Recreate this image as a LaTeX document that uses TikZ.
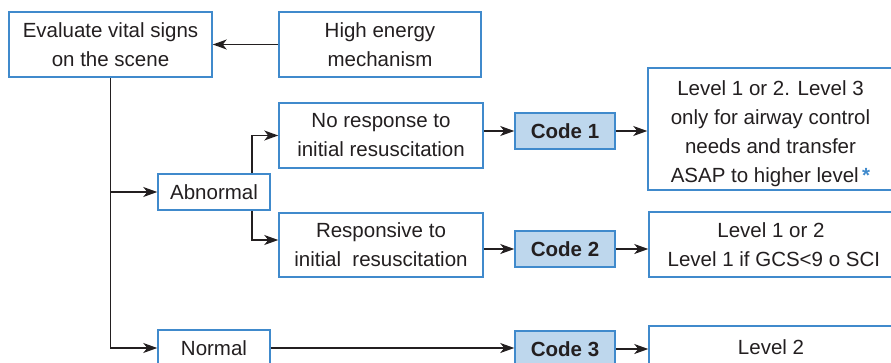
\documentclass[tikz,border=0pt]{standalone}
\usepackage{fontspec}
\setmainfont{Liberation Sans}
\usetikzlibrary{arrows.meta}
\definecolor{boxblue}{RGB}{64,138,204}
\definecolor{codefill}{RGB}{190,215,237}
\definecolor{inkgray}{RGB}{35,31,32}
\tikzset{
  box/.style={draw=boxblue, line width=1.5pt, fill=white, text=inkgray,
    align=center, inner sep=0pt,
    font=\fontsize{20.5}{29}\selectfont},
  codebox/.style={box, fill=codefill,
    font=\fontsize{20.5}{29}\selectfont\bfseries,
    minimum width=100pt, minimum height=36pt},
  link/.style={draw=inkgray, line width=1.3pt},
  arr/.style={link, -{Stealth[length=14pt,width=10pt,inset=4pt]}}
}
\begin{document}
\begin{tikzpicture}[x=1pt, y=-1pt]
\useasboundingbox (0,0) rectangle (891,362);
\clip (0,0) rectangle (891,362);

% left column
\node[box, minimum width=203pt, minimum height=65pt] (eval) at (110.5,44.5)
  {Evaluate vital signs\\on the scene};
\node[box, minimum width=202pt, minimum height=65pt] (high) at (380,44.5)
  {High energy\\mechanism};
\node[box, minimum width=112pt, minimum height=36pt] (abn) at (214,192) {Abnormal};
\node[box, minimum width=112pt, minimum height=36pt] (norm) at (214,348) {Normal};

% abnormal sub-branches
\node[box, minimum width=204pt, minimum height=65pt] (noresp) at (381,135.5)
  {No response to\\initial resuscitation};
\node[box, minimum width=204pt, minimum height=64pt] (resp) at (381,245)
  {Responsive to\\initial~ resuscitation};

% codes
\node[codebox] (code1) at (565,131) {Code 1};
\node[codebox] (code2) at (565,249) {Code 2};
\node[codebox] (code3) at (565,349) {Code 3};

% destination levels
\node[box, minimum width=245pt, minimum height=122pt] (lv1) at (770.5,129)
  {\rule{0pt}{24pt}Level 1 or 2. Level 3\\only for airway control\\needs and transfer\\ASAP to higher level\,\textcolor{boxblue}{\bfseries *}};
\node[box, minimum width=244pt, minimum height=65pt] (lv2) at (771,244.5)
  {Level 1 or 2\\\ Level 1 if GCS<9 o SCI};
\node[box, minimum width=244pt, minimum height=42pt] (lv3) at (771,347) {Level 2};

% connectors
\draw[arr] (high.west) -- (eval.east);
\draw[arr] (eval.south) |- (norm.west);
\draw[arr] (eval.south |- abn.west) -- (abn.west);
\draw[arr] ([xshift=38pt]abn.north) |- (noresp.west);
\draw[arr] ([xshift=38pt]abn.south) |- ([yshift=5pt]resp.west);
\draw[arr] (noresp.east |- code1.west) -- (code1.west);
\draw[arr] (resp.east |- code2.west) -- (code2.west);
\draw[arr] (norm.east) -- (norm.east -| code3.west);
\draw[arr] (code1.east) -- (code1.east -| lv1.west);
\draw[arr] (code2.east) -- (code2.east -| lv2.west);
\draw[arr] (code3.east) -- (code3.east -| lv3.west);
\end{tikzpicture}
\end{document}
